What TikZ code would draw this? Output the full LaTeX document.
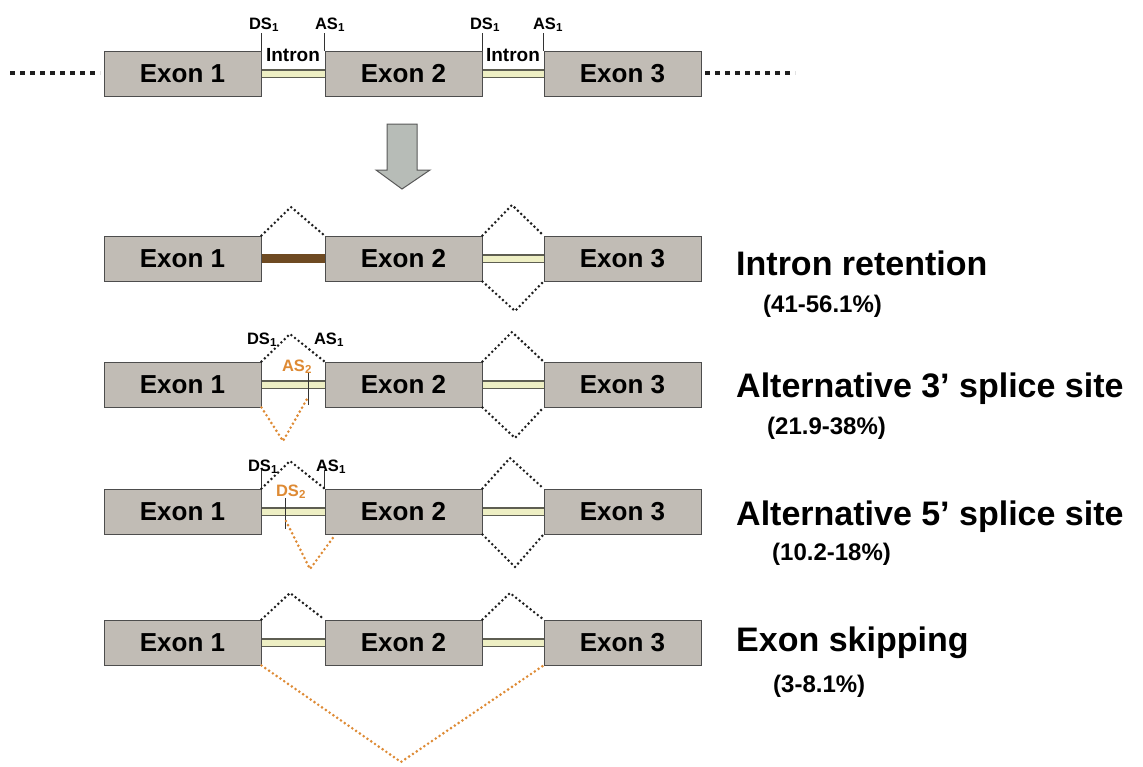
\documentclass[tikz,border=0pt]{standalone}
\usepackage{fontspec}
\setmainfont{Liberation Sans}
\definecolor{exonfill}{HTML}{C1BCB5}
\definecolor{exonline}{HTML}{4D4D4D}
\definecolor{introfill}{HTML}{EEEFC4}
\definecolor{introline}{HTML}{5E5E52}
\definecolor{brownbar}{HTML}{6E4A22}
\definecolor{orng}{HTML}{DE8A34}
\definecolor{arrowfill}{HTML}{B7BCB7}
\definecolor{darkdot}{HTML}{1E1E1E}
\tikzset{
  exon/.style={rectangle, draw=exonline, line width=1pt, fill=exonfill,
    minimum width=157pt, minimum height=45pt, inner sep=0pt,
    font=\fontsize{26}{28}\selectfont\bfseries},
  introbar/.style={draw=introline, line width=1.1pt, double=introfill, double distance=6pt},
  retained/.style={draw=brownbar, line width=9pt},
  splice/.style={draw=darkdot, line width=2.9pt, line cap=round, dash pattern=on 0pt off 4.6pt},
  altsplice/.style={draw=orng, line width=2.9pt, line cap=round, dash pattern=on 0pt off 4.6pt},
  siteline/.style={draw=black!80, line width=1pt},
  sitelbl/.style={inner sep=0pt, anchor=base, font=\fontsize{16.5}{18}\selectfont\bfseries},
  altlbl/.style={sitelbl, text=orng},
  intronlbl/.style={inner sep=0pt, anchor=base, font=\fontsize{19}{21}\selectfont\bfseries},
  flank/.style={draw=darkdot, line width=4pt, dash pattern=on 5pt off 5pt},
  titlelbl/.style={inner sep=0pt, anchor=base west, font=\fontsize{34}{36}\selectfont\bfseries},
  pctlbl/.style={inner sep=0pt, anchor=base west, font=\fontsize{24}{26}\selectfont\bfseries},
  bigarrow/.style={draw=black!65, line width=1pt, fill=arrowfill, line join=miter}
}
\begin{document}
\begin{tikzpicture}[x=1pt,y=-1pt]
\useasboundingbox (0,0) rectangle (1143,766);
\fill[white] (0,0) rectangle (1143,766);

% exons
\foreach \r/\y in {0/73.5,1/258.5,2/384.5,3/511.5,4/642.5}{
  \node[exon] (e\r1) at (182.5,\y) {Exon 1};
  \node[exon] (e\r2) at (403.5,\y) {Exon 2};
  \node[exon] (e\r3) at (622.5,\y) {Exon 3};
}

% ---------- top row (pre-mRNA) ----------
\coordinate (fl0) at (10,72.5);
\coordinate (fl1) at (100,72.5);
\coordinate (fr0) at (705,72.5);
\coordinate (fr1) at (795,72.5);
\draw[flank] (fl0) -- (fl1);
\draw[flank] (fr0) -- (fr1);
\draw[introbar] (e01.east) -- (e02.west);
\draw[introbar] (e02.east) -- (e03.west);
\draw[siteline] (e01.north east) -- +(0,-18) coordinate (s0a);
\draw[siteline] (e02.north west) -- +(0,-18) coordinate (s0b);
\draw[siteline] (e02.north east) -- +(0,-18) coordinate (s0c);
\draw[siteline] (e03.north west) -- +(0,-18) coordinate (s0d);
\node[sitelbl] (l0a) at (264,29) {DS\textsubscript{1}};
\node[sitelbl] (l0b) at (330,29) {AS\textsubscript{1}};
\node[sitelbl] (l0c) at (485,29) {DS\textsubscript{1}};
\node[sitelbl] (l0d) at (548,29) {AS\textsubscript{1}};
\node[intronlbl] (i0a) at (293,61) {Intron};
\node[intronlbl] (i0b) at (513,61) {Intron};

% ---------- arrow ----------
\draw[bigarrow] (387,124) -- (417,124) -- (417,170) -- (430,170) -- (402,189)
  -- (376,170) -- (387,170) -- cycle;

% ---------- row 1: intron retention ----------
\draw[retained] (e11.east) -- (e12.west);
\draw[introbar] (e12.east) -- (e13.west);
\coordinate (p1a) at (291,207);
\coordinate (p1b) at (512,205);
\coordinate (q1b) at (515,311);
\draw[splice] (e11.north east) -- (p1a) -- (e12.north west);
\draw[splice] (e12.north east) -- (p1b) -- (e13.north west);
\draw[splice] (e12.south east) -- (q1b) -- (e13.south west);

% ---------- row 2: alternative 3' splice site ----------
\draw[introbar] (e21.east) -- (e22.west);
\draw[introbar] (e22.east) -- (e23.west);
\coordinate (p2a) at (290,334);
\coordinate (p2b) at (512,332);
\coordinate (q2b) at (515,438);
\draw[splice] (e21.north east) -- (p2a) -- (e22.north west);
\draw[splice] (e22.north east) -- (p2b) -- (e23.north west);
\draw[splice] (e22.south east) -- (q2b) -- (e23.south west);
\node[sitelbl] (l2a) at (262,344) {DS\textsubscript{1}};
\node[sitelbl] (l2b) at (329,344) {AS\textsubscript{1}};
\coordinate (as2t) at (308,373);
\coordinate (as2b) at (308,405);
\draw[siteline] (as2t) -- (as2b);
\node[altlbl] (l2c) at (297,371) {AS\textsubscript{2}};
\coordinate (v2) at (283,441);
\coordinate (as2e) at (307,399);
\draw[altsplice] (e21.south east) -- (v2) -- (as2e);

% ---------- row 3: alternative 5' splice site ----------
\draw[introbar] (e31.east) -- (e32.west);
\draw[introbar] (e32.east) -- (e33.west);
\draw[siteline] (e31.north east) -- +(0,-19) coordinate (s3a);
\draw[siteline] (e32.north west) -- +(0,-19) coordinate (s3b);
\coordinate (p3a) at (290,461);
\coordinate (p3b) at (510,458);
\coordinate (q3b) at (515,567);
\draw[splice] (e31.north east) -- (p3a) -- (e32.north west);
\draw[splice] (e32.north east) -- (p3b) -- (e33.north west);
\draw[splice] (e32.south east) -- (q3b) -- (e33.south west);
\node[sitelbl] (l3a) at (263,471) {DS\textsubscript{1}};
\node[sitelbl] (l3b) at (331,471) {AS\textsubscript{1}};
\coordinate (ds2t) at (285,498);
\coordinate (ds2b) at (285,529);
\draw[siteline] (ds2t) -- (ds2b);
\node[altlbl] (l3c) at (291,496) {DS\textsubscript{2}};
\coordinate (ds2e) at (286,521);
\coordinate (v3) at (310,569);
\coordinate (a3e) at (335,535);
\draw[altsplice] (ds2e) -- (v3) -- (a3e);

% ---------- row 4: exon skipping ----------
\draw[introbar] (e41.east) -- (e42.west);
\draw[introbar] (e42.east) -- (e43.west);
\coordinate (p4a) at (290,593);
\coordinate (p4b) at (510,593);
\coordinate (v4) at (401,762);
\draw[splice] (e41.north east) -- (p4a) -- (e42.north west);
\draw[splice] (e42.north east) -- (p4b) -- (e43.north west);
\draw[altsplice] (e41.south east) -- (v4) -- (e43.south west);

% ---------- labels ----------
\node[titlelbl] (t1) at (736,275) {Intron retention};
\node[pctlbl] (c1) at (763,312) {(41-56.1\%)};
\node[titlelbl] (t2) at (736,397) {Alternative 3’ splice site};
\node[pctlbl] (c2) at (767,434) {(21.9-38\%)};
\node[titlelbl] (t3) at (736,525) {Alternative 5’ splice site};
\node[pctlbl] (c3) at (772,560) {(10.2-18\%)};
\node[titlelbl] (t4) at (736,651) {Exon skipping};
\node[pctlbl] (c4) at (773,692) {(3-8.1\%)};
\end{tikzpicture}
\end{document}
